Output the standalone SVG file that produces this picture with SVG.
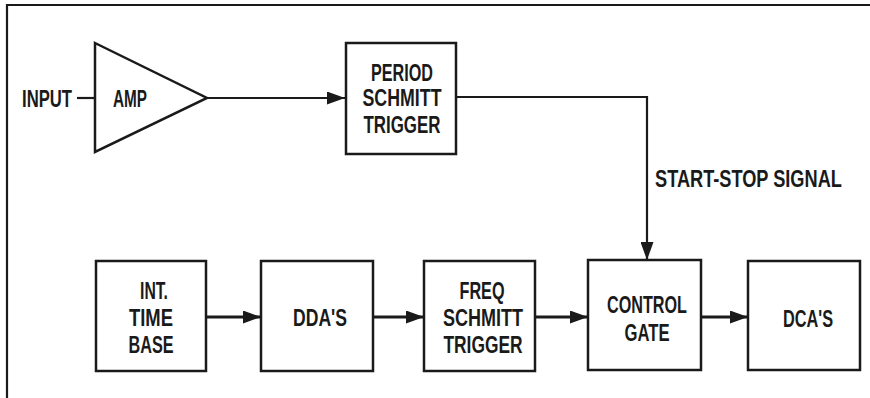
<svg xmlns="http://www.w3.org/2000/svg" width="870" height="398" viewBox="0 0 870 398">
<style>
.box{fill:#fff;stroke:#1a1a1a;stroke-width:2.5}
.ln{fill:none;stroke:#1a1a1a;stroke-width:2.2}
.lb{fill:none;stroke:#1a1a1a;stroke-width:3}
.t{font-family:"Liberation Sans",Arial,sans-serif;font-weight:bold;font-size:24px;fill:#1a1a1a;text-anchor:middle}
</style>
<defs>
<marker id="ah" markerWidth="18" markerHeight="13" refX="18" refY="6.5" orient="auto" markerUnits="userSpaceOnUse">
<path d="M0,0 L18,6.5 L0,13 Z" fill="#1a1a1a"/>
</marker>
</defs>
<rect width="870" height="398" fill="#fff"/>
<g id="frame">
<path class="ln" d="M870,5 L7,5 L7,398"/>
</g>
<g id="connectors">
<path class="ln" d="M77,98 L95,98"/>
<path class="ln" d="M207,98 L345,98" marker-end="url(#ah)"/>
<path class="ln" d="M456,97 L647,97 L647,260" marker-end="url(#ah)"/>
<path class="lb" d="M206,317 L261,317" marker-end="url(#ah)"/>
<path class="lb" d="M373,317 L424,317" marker-end="url(#ah)"/>
<path class="lb" d="M535,317 L588,317" marker-end="url(#ah)"/>
<path class="lb" d="M701,317 L748,317" marker-end="url(#ah)"/>
</g>
<g id="input-label">
<text class="t" x="47" y="107" textLength="50" lengthAdjust="spacingAndGlyphs">INPUT</text>
</g>
<g id="amp">
<path class="box" d="M95,43 L207,98 L95,152 Z"/>
<text class="t" x="130" y="107" textLength="34" lengthAdjust="spacingAndGlyphs">AMP</text>
</g>
<g id="period-schmitt">
<rect class="box" x="346" y="43" width="110" height="111"/>
<text class="t" x="402" y="81" textLength="62" lengthAdjust="spacingAndGlyphs">PERIOD</text>
<text class="t" x="402" y="106" textLength="79" lengthAdjust="spacingAndGlyphs">SCHMITT</text>
<text class="t" x="402" y="133" textLength="77" lengthAdjust="spacingAndGlyphs">TRIGGER</text>
</g>
<g id="start-stop-label">
<text class="t" style="text-anchor:start" transform="translate(655,187) scale(0.758,1)" x="0" y="0">START-STOP SIGNAL</text>
</g>
<g id="int-time-base">
<rect class="box" x="96" y="261" width="110" height="110"/>
<text class="t" x="154" y="299" textLength="28" lengthAdjust="spacingAndGlyphs">INT.</text>
<text class="t" x="151" y="326" textLength="44" lengthAdjust="spacingAndGlyphs">TIME</text>
<text class="t" x="151" y="353" textLength="45" lengthAdjust="spacingAndGlyphs">BASE</text>
</g>
<g id="ddas">
<rect class="box" x="261" y="261" width="112" height="110"/>
<text class="t" x="320" y="326" textLength="54" lengthAdjust="spacingAndGlyphs">DDA'S</text>
</g>
<g id="freq-schmitt">
<rect class="box" x="424" y="261" width="111" height="110"/>
<text class="t" x="482" y="299" textLength="45" lengthAdjust="spacingAndGlyphs">FREQ</text>
<text class="t" x="483" y="326" textLength="80" lengthAdjust="spacingAndGlyphs">SCHMITT</text>
<text class="t" x="483" y="353" textLength="79" lengthAdjust="spacingAndGlyphs">TRIGGER</text>
</g>
<g id="control-gate">
<rect class="box" x="588" y="260" width="113" height="110"/>
<text class="t" x="647" y="313" textLength="80" lengthAdjust="spacingAndGlyphs">CONTROL</text>
<text class="t" x="647" y="341" textLength="45" lengthAdjust="spacingAndGlyphs">GATE</text>
</g>
<g id="dcas">
<rect class="box" x="748" y="261" width="112" height="109"/>
<text class="t" x="808" y="327" textLength="50" lengthAdjust="spacingAndGlyphs">DCA'S</text>
</g>
</svg>
